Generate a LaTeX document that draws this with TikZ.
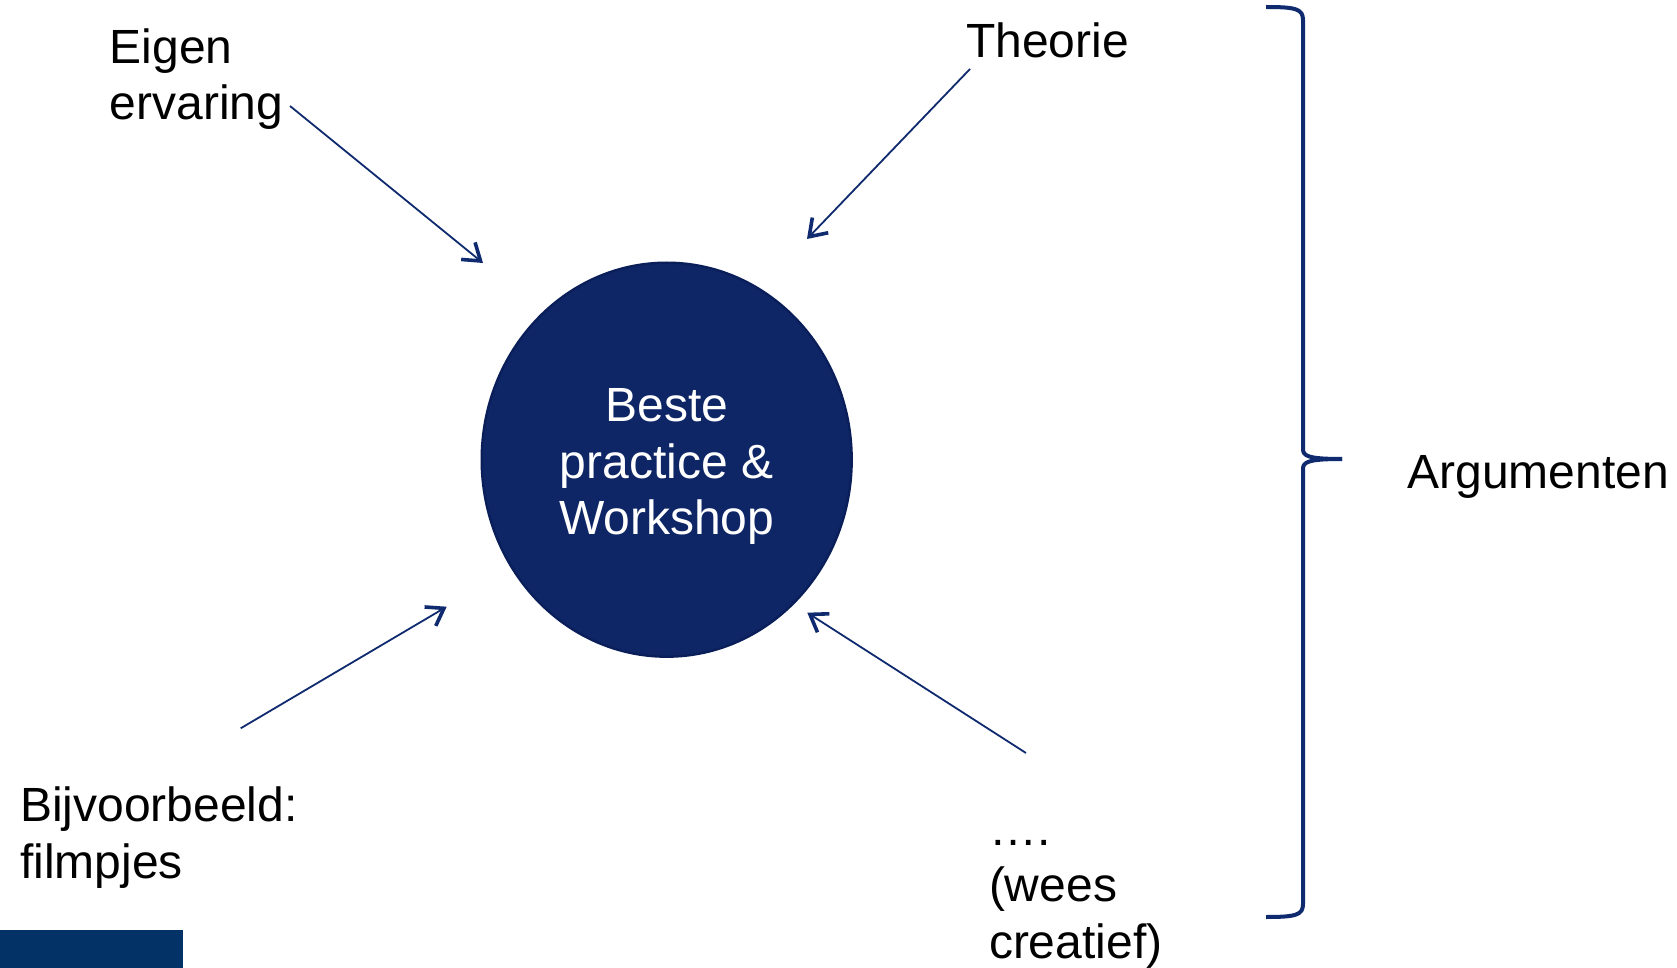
\documentclass[tikz,border=0pt]{standalone}
\usepackage{fontspec}
\setmainfont{Liberation Sans}
\usetikzlibrary{arrows.meta,shapes.geometric}
\definecolor{navy}{HTML}{0E2666}
\definecolor{navyline}{HTML}{0A1F5A}
\definecolor{arrowc}{HTML}{0F2A6E}
\definecolor{bandc}{HTML}{033366}
\begin{document}
\begin{tikzpicture}[x=0.5pt,y=-0.5pt,
  lbl/.style={anchor=base west, inner sep=0pt, font=\fontsize{24pt}{28.3pt}\selectfont},
  arr/.style={draw=arrowc, line width=0.9pt, -{Straight Barb[length=8pt,width=11pt,line width=1.8pt]}},
  hubshape/.style={ellipse, fill=navy, draw=navyline, line width=1.2pt, minimum width=185pt, minimum height=197pt, inner sep=0pt},
  bracket/.style={draw=arrowc, line width=2pt, line join=round}]
\useasboundingbox (0,0) rectangle (1677,968);
\fill[white] (0,0) rectangle (1677,968);
% central circle
\node[hubshape] (hub) at (666.7,459.7) {};
\node[lbl, anchor=base, text=white] (hubtext) at (666.7,421.7)
  {\vtop{\halign{\hfil#\hfil\cr Beste\cr practice \&\cr Workshop\cr}}};
% labels
\node[lbl] (eigen) at (109.4,63.3) {\vtop{\hbox{Eigen}\hbox{ervaring}}};
\node[lbl] (theorie) at (965.6,57.3) {Theorie};
\node[lbl] (bijv) at (19.8,821.7) {\vtop{\hbox{Bijvoorbeeld:}\hbox{filmpjes}}};
\node[lbl] (wees) at (988.6,845) {\vtop{\hbox{….}\hbox{(wees}\hbox{creatief)}}};
\node[lbl] (arg) at (1407,488.3) {Argumenten};
% arrow end points
\coordinate (eigenS) at (290,106);
\coordinate (eigenT) at (483,263);
\coordinate (theoS) at (970,69);
\coordinate (theoT) at (807,239);
\coordinate (bijvS) at (240.7,728.3);
\coordinate (bijvT) at (446.7,606.7);
\coordinate (weesS) at (1026,753);
\coordinate (weesT) at (807.3,612.7);
\draw[arr] (eigenS) -- (eigenT);
\draw[arr] (theoS) -- (theoT);
\draw[arr] (bijvS) -- (bijvT);
\draw[arr] (weesS) -- (weesT);
% brace
\coordinate (brTop) at (1266,7);
\coordinate (brTip) at (1342,459);
\coordinate (brBot) at (1266,917);
\draw[bracket] (brTop) .. controls (1296,7) and (1303,9) .. (1303,20)
  -- (1303,449) .. controls (1303,456) and (1308,459) .. (brTip);
\draw[bracket] (brTip) .. controls (1308,459) and (1303,462) .. (1303,469)
  -- (1303,904) .. controls (1303,915) and (1296,917) .. (brBot);
% bottom band
\fill[bandc] (0,930) rectangle (182.7,968);
\end{tikzpicture}
\end{document}
